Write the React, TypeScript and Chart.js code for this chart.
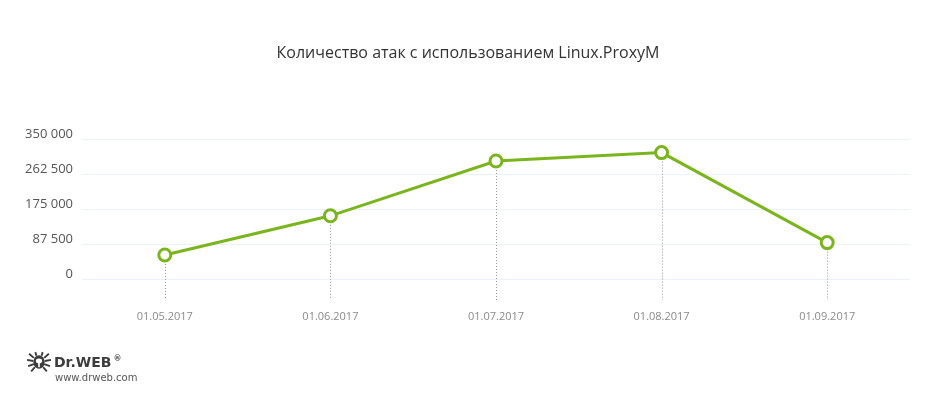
import React, { useEffect, useRef } from "react";
import { Chart, registerables } from "chart.js";

Chart.register(...registerables);

const TITLE = "Количество атак с использованием Linux.ProxyM";
const CATEGORIES = ["01.05.2017", "01.06.2017", "01.07.2017", "01.08.2017", "01.09.2017"];
const ATTACKS = [60000, 158000, 295000, 316000, 91000];
const Y_MIN = 0;
const Y_MAX = 350000;
const Y_STEP = 87500;

const GREEN = "#7ab51d";

const fmt = (v: number) => String(v).replace(/\B(?=(\d{3})+(?!\d))/g, " ");

const dropLines = {
  id: "dropLines",
  beforeDatasetsDraw(chart: any) {
    const ctx = chart.ctx;
    const meta = chart.getDatasetMeta(0);
    const bottom = chart.chartArea.bottom + 21;
    ctx.save();
    ctx.strokeStyle = "#9a9a9a";
    ctx.lineWidth = 1;
    ctx.setLineDash([1, 2]);
    meta.data.forEach((pt: any) => {
      const x = Math.round(pt.x) + 0.5;
      ctx.beginPath();
      ctx.moveTo(x, pt.y);
      ctx.lineTo(x, bottom);
      ctx.stroke();
    });
    ctx.restore();
  },
};

function Logo() {
  return (
    <div style={{ position: "absolute", left: 26, top: 351, width: 140, height: 36 }}>
      <svg width="26" height="22" viewBox="0 0 25 20" style={{ position: "absolute", left: 0, top: 0 }}>
        <g fill="#3c3c3c" stroke="#3c3c3c">
          <ellipse cx="12.5" cy="10" rx="5.5" ry="6.5" stroke="none" />
          <path d="M7.5 6 L3 2 M7 9 L1 8 M7.5 12 L2 14 M8.5 15 L5 19 M17.5 6 L22 2 M18 9 L24 8 M17.5 12 L23 14 M16.5 15 L20 19 M10 4 L9 0.5 M15 4 L16 0.5" strokeWidth="1.8" fill="none" />
        </g>
        <ellipse cx="12.5" cy="9" rx="3" ry="2.4" fill="#fff" />
        <rect x="11.7" y="11" width="1.6" height="4" fill="#fff" />
      </svg>
      <div
        style={{
          position: "absolute",
          left: 28,
          top: 3,
          font: "bold 14px 'DejaVu Sans'",
          color: "#3c3c3c",
          whiteSpace: "nowrap",
          lineHeight: "16px",
        }}
      >
        Dr.WEB<span style={{ fontSize: 8, verticalAlign: "top", marginLeft: 2, lineHeight: "10px" }}>®</span>
      </div>
      <div
        style={{
          position: "absolute",
          left: 29,
          top: 21,
          font: "10px 'DejaVu Sans'",
          color: "#555",
          whiteSpace: "nowrap",
          lineHeight: "12px",
        }}
      >
        www.drweb.com
      </div>
    </div>
  );
}

export default function App() {
  const ref = useRef<HTMLCanvasElement | null>(null);

  useEffect(() => {
    if (!ref.current) return;
    const chart = new Chart(ref.current, {
      type: "line",
      data: {
        labels: CATEGORIES,
        datasets: [
          {
            data: ATTACKS,
            borderColor: GREEN,
            borderWidth: 3,
            pointRadius: 6,
            pointHoverRadius: 6,
            pointBorderWidth: 3,
            pointBackgroundColor: "#ffffff",
            pointBorderColor: GREEN,
            tension: 0,
            fill: false,
          },
        ],
      },
      options: {
        responsive: false,
        animation: false,
        layout: { padding: { left: 0, right: 26, top: 139, bottom: 0 } },
        plugins: {
          legend: { display: false },
          tooltip: { enabled: false },
          title: { display: false },
        },
        scales: {
          x: {
            type: "category",
            offset: true,
            grid: { display: false, drawTicks: false },
            border: { display: false },
            ticks: {
              color: "#8a8a8a",
              font: { family: "'Open Sans'", size: 11 },
              padding: 31,
              maxRotation: 0,
            },
            afterFit(scale: any) {
              scale.height = 121;
            },
          },
          y: {
            min: Y_MIN,
            max: Y_MAX,
            grid: { color: "#eaf3fb", lineWidth: 1, drawTicks: false },
            border: { display: false },
            ticks: {
              stepSize: Y_STEP,
              color: "#555555",
              font: { family: "'Open Sans'", size: 13 },
              padding: 9,
              labelOffset: -5,
              callback: (v: any) => fmt(Number(v)),
            },
            afterFit(scale: any) {
              scale.width = 82;
            },
          },
        },
      },
    plugins: [dropLines],
    });
    return () => chart.destroy();
  }, []);

  return (
    <div style={{ position: "absolute", left: 0, top: 0, width: 936, height: 400, background: "#fff" }}>
      <canvas ref={ref} width={936} height={400} style={{ position: "absolute", left: 0, top: 0 }} />
      <div
        style={{
          position: "absolute",
          left: 0,
          top: 42,
          width: 936,
          textAlign: "center",
          font: "16px 'Open Sans'",
          lineHeight: "20px",
          color: "#333",
        }}
      >
        {TITLE}
      </div>
      <Logo />
    </div>
  );
}
